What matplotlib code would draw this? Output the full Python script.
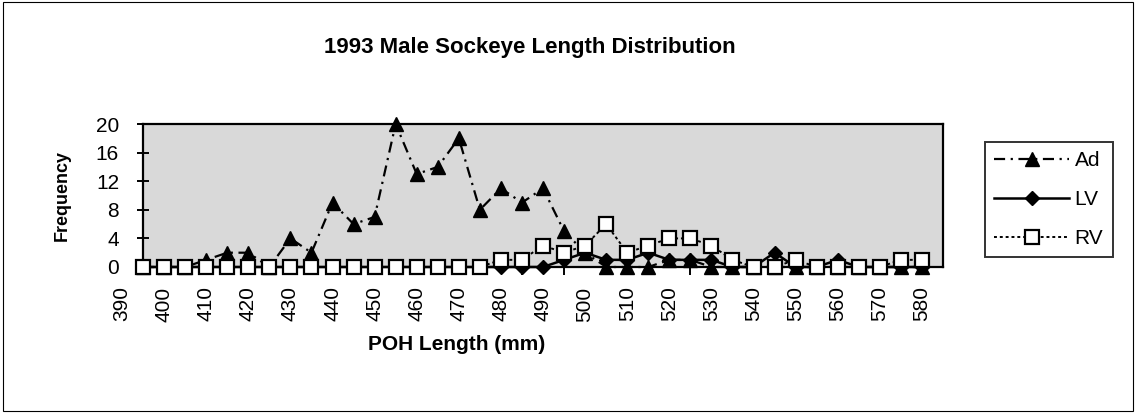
import matplotlib
matplotlib.use("Agg")
import matplotlib.pyplot as plt
from matplotlib.patches import Rectangle

# POH length categories (mm) and counts per group
lengths = list(range(395, 585, 5))
ad_counts = [0, 0, 0, 1, 2, 2, 0, 4, 2, 9, 6, 7, 20, 13, 14, 18, 8, 11, 9, 11,
             5, 2, 0, 0, 0, 1, 1, 0, 0, 0, 0, 0, 0, 0, 0, 0, 0, 0]
lv_counts = [0, 0, 0, 0, 0, 0, 0, 0, 0, 0, 0, 0, 0, 0, 0, 0, 0, 0, 0, 0,
             1, 2, 1, 1, 2, 1, 1, 1, 0, 0, 2, 0, 0, 1, 0, 0, 0, 0]
rv_counts = [0, 0, 0, 0, 0, 0, 0, 0, 0, 0, 0, 0, 0, 0, 0, 0, 0, 1, 1, 3,
             2, 3, 6, 2, 3, 4, 4, 3, 1, 0, 0, 1, 0, 0, 0, 0, 1, 1]
x_tick_labels = list(range(390, 590, 10))
y_ticks = [0, 4, 8, 12, 16, 20]

plt.rcParams["font.family"] = ["Liberation Sans", "DejaVu Sans"]

W, H = 1136, 413
fig = plt.figure(figsize=(W / 100, H / 100), dpi=100)

# plot area in pixels: x 390->122, 585->943 ; y 0->267, 20->124
left, right, top, bottom = 122, 943, 124, 267
ax = fig.add_axes([left / W, 1 - bottom / H, (right - left) / W, (bottom - top) / H])

ax.set_xlim(390, 585)
ax.set_ylim(0, 20)
ax.set_facecolor("none")
ax.axvspan(395, 585, color="#d9d9d9", zorder=0, lw=0)

ax.plot(lengths, ad_counts, color="black", lw=1.6, linestyle=(0, (5, 2.5, 1, 2.5)),
        marker="^", markersize=10, markerfacecolor="black", markeredgecolor="black",
        clip_on=False, zorder=3, label="Ad")
ax.plot(lengths, lv_counts, color="black", lw=1.8, linestyle="-",
        marker="D", markersize=7.5, markerfacecolor="black", markeredgecolor="black",
        clip_on=False, zorder=4, label="LV")
ax.plot(lengths, rv_counts, color="black", lw=1.4, linestyle=(0, (1.5, 1.5)),
        marker="s", markersize=9.5, markerfacecolor="white", markeredgecolor="black",
        markeredgewidth=1.6, clip_on=False, zorder=5, label="RV")

for side in ["top", "bottom"]:
    ax.spines[side].set_bounds(395, 585)
ax.spines["left"].set_position(("data", 395))
for s in ax.spines.values():
    s.set_linewidth(1.6)

ax.set_yticks(y_ticks)
ax.tick_params(axis="y", direction="inout", length=8.6, width=1.4, pad=13,
               labelsize=15)
ax.set_xticks(x_tick_labels)
ax.set_xticklabels([str(v) for v in x_tick_labels], rotation=90)
ax.set_xticks(lengths, minor=True)
ax.tick_params(axis="x", which="major", length=0, pad=14, labelsize=15)
ax.tick_params(axis="x", which="minor", direction="out", length=5.5, width=1.4)

fig.text(530 / W, 1 - 47 / H, "1993 Male Sockeye Length Distribution",
         ha="center", va="center", fontsize=16, fontweight="bold")
fig.text(457 / W, 1 - 345 / H, "POH Length (mm)", ha="center", va="center",
         fontsize=15, fontweight="bold")
fig.text(62 / W, 1 - 195 / H, "Frequency", ha="center", va="center",
         rotation=90, fontsize=13, fontweight="bold")

leg = ax.legend(loc="upper left", bbox_to_anchor=(985 / W, 1 - 142 / H),
                bbox_transform=fig.transFigure, frameon=True, fancybox=False,
                edgecolor="black", fontsize=15, handlelength=3.6,
                handletextpad=0.25, labelspacing=0.95, borderpad=0.45,
                borderaxespad=0, numpoints=1)
leg.get_frame().set_linewidth(1.4)

fig.patches.append(Rectangle((3 / W, 2 / H), (W - 6) / W, (H - 4) / H,
                             transform=fig.transFigure, fill=False,
                             edgecolor="black", lw=0.8))

fig.savefig("out.png", dpi=100)
